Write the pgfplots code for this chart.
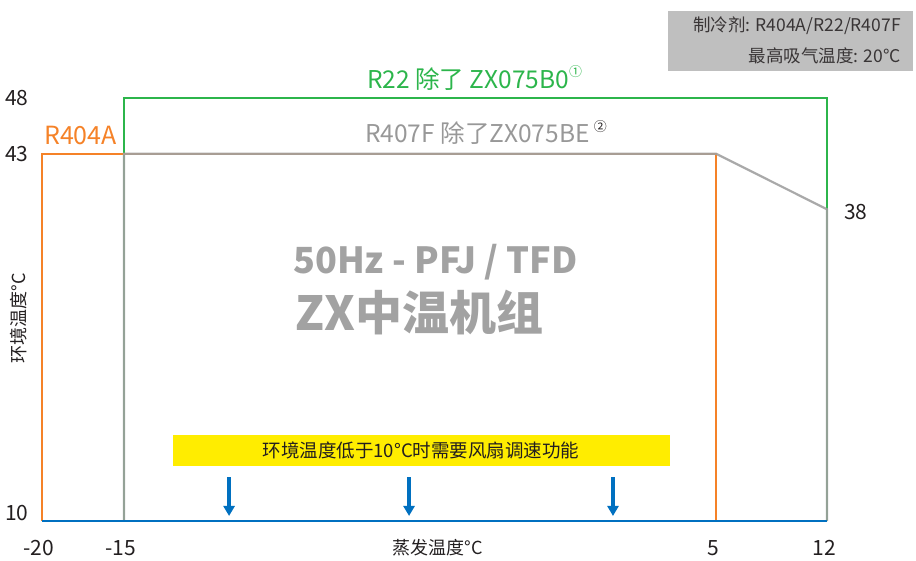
\documentclass[border=0pt]{standalone}
\usepackage{pgfplots}
\pgfplotsset{compat=1.18}
\usepackage{fontspec}
\setmainfont{Noto Sans CJK SC}
\usetikzlibrary{arrows.meta}
\definecolor{cgreen}{RGB}{44,181,75}
\definecolor{corange}{RGB}{245,130,40}
\definecolor{cgray}{RGB}{160,160,160}
\definecolor{cblue}{RGB}{0,112,192}
\definecolor{cyellow}{RGB}{255,237,0}
\definecolor{cbox}{RGB}{191,191,191}
\definecolor{ctext}{RGB}{35,31,32}
\definecolor{ctitle}{RGB}{162,162,162}
\begin{document}
\begin{tikzpicture}[x=1pt,y=1pt]
\useasboundingbox (0,0) rectangle (916,560);
\begin{axis}[
  at={(42pt,39pt)}, anchor=south west,
  scale only axis, width=785pt, height=423pt,
  xmin=-20, xmax=12, ymin=10, ymax=48,
  clip=false,
  x coord trafo/.code={\pgfmathparse{(#1<=-15)*((#1+20)*16.4) + (#1>-15)*(#1<=5)*(82+(#1+15)*29.6) + (#1>5)*(674+(#1-5)*15.857)}},
  axis line style={draw=none},
  major tick length=0pt,
  xtick={-20,-15,5,12}, xticklabels={-20,-15,5,12},
  ytick={43,48}, yticklabels={43,48},
  extra y ticks={10}, extra y tick labels={10},
  extra y tick style={yticklabel style={yshift=8pt}},
  tick label style={font=\fontsize{21}{24}\selectfont, text=ctext},
  xticklabel style={anchor=center, yshift=-27pt, xshift=-3pt},
  yticklabel style={anchor=east, xshift=-10pt},
]
% yellow note box
\addplot[draw=none, fill=cyellow] coordinates {(-13.35,14.94) (3.45,14.94) (3.45,17.73) (-13.35,17.73)} -- cycle;
% R22 envelope
\addplot[cgreen, line width=2.2pt] coordinates {(-15,10) (-15,48) (12,48) (12,10)};
% R404A envelope
\addplot[corange, line width=2.2pt] coordinates {(-20,10) (-20,43) (5,43) (5,10)};
% R407F envelope
\addplot[cgray, line width=2.2pt, opacity=0.9] coordinates {(-15,10) (-15,43) (5,43) (12,38) (12,10)};
% bottom line
\addplot[cblue, line width=2.4pt] coordinates {(-20,10) (12,10)};
% arrows
\addplot[cblue, line width=3.2pt, -{Triangle[width=11pt,length=10pt]}] coordinates {(-11.45,13.95) (-11.45,10.45)};
\addplot[cblue, line width=3.2pt, -{Triangle[width=11pt,length=10pt]}] coordinates {(-5.37,13.95) (-5.37,10.45)};
\addplot[cblue, line width=3.2pt, -{Triangle[width=11pt,length=10pt]}] coordinates {(1.52,13.95) (1.52,10.45)};
\end{axis}
% texts
\node[anchor=base west, inner sep=0, text=corange, font=\fontsize{25}{28}\selectfont] at (44,415) {R404A};
\node[anchor=base west, inner sep=0, text=cgreen, font=\fontsize{24.5}{28}\selectfont] at (367,471) {R22 除了 ZX075B0\raisebox{0.5em}{\fontsize{13}{13}\selectfont ①}};
\node[anchor=base west, inner sep=0, text=cgray!95!black, font=\fontsize{24.5}{28}\selectfont] at (365,417) {R407F 除了ZX075BE\,\raisebox{0.45em}{\fontsize{13}{13}\selectfont\color{ctext}②}};
\node[anchor=west, inner sep=0, text=ctitle, font=\fontsize{36}{44}\selectfont\bfseries] at (293,298) {50Hz - PFJ / TFD};
\node[anchor=west, inner sep=0, text=ctitle, font=\fontsize{47}{54}\selectfont\bfseries] at (295,247) {ZX中温机组};
\node[text=ctext, font=\fontsize{18.5}{22}\selectfont] at (421,110) {环境温度低于10°C时需要风扇调速功能};
\node[anchor=west, inner sep=0, text=ctext, font=\fontsize{21}{24}\selectfont] at (844,348) {38};
\node[text=ctext, font=\fontsize{18}{21}\selectfont] at (438,12) {蒸发温度°C};
\node[rotate=90, text=ctext, font=\fontsize{18}{21}\selectfont] at (19,242) {环境温度°C};
\fill[cbox] (668,489) rectangle (913,549);
\node[anchor=base east, inner sep=0, text=ctext!90, font=\fontsize{17.5}{20}\selectfont] at (901,528) {制冷剂: R404A/R22/R407F};
\node[anchor=base east, inner sep=0, text=ctext!90, font=\fontsize{17.5}{20}\selectfont] at (901,497) {最高吸气温度: 20°C};
\end{tikzpicture}
\end{document}
